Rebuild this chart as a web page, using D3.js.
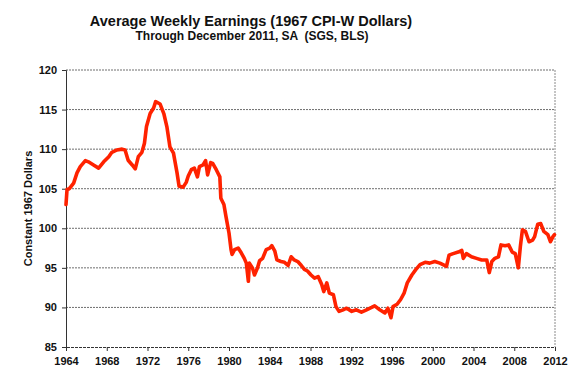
<!DOCTYPE html>
<html lang="en">
<head>
<meta charset="UTF-8">
<title>Average Weekly Earnings</title>
<script src="https://d3js.org/d3.v7.min.js"></script>
<style>
    body { margin: 0; background: #fff; }
    text { font-family: "Liberation Sans", Arial, sans-serif; font-weight: bold; fill: #111; }
</style>
</head>
<body>
<svg id="chart" width="580" height="388"></svg>
<script>
// values
const years = [1964.0, 1964.1, 1964.33, 1964.75, 1965.08, 1965.4, 1965.9, 1966.2, 1966.7, 1967.2, 1967.7,
    1968.2, 1968.5, 1969.0, 1969.5, 1969.8, 1970.1, 1970.5, 1970.8, 1971.1, 1971.45, 1971.7, 1971.9,
    1972.26, 1972.6, 1972.8, 1973.24, 1973.6, 1973.9, 1974.2, 1974.55, 1974.9, 1975.1, 1975.5, 1975.8,
    1976.0, 1976.3, 1976.6, 1976.9, 1977.1, 1977.45, 1977.7, 1977.9, 1978.2, 1978.4, 1978.75, 1979.1,
    1979.2, 1979.5, 1979.7, 1980.0, 1980.2, 1980.3, 1980.55, 1980.9, 1981.2, 1981.5, 1981.7, 1981.9,
    1982.0, 1982.3, 1982.5, 1982.8, 1983.0, 1983.3, 1983.65, 1984.0, 1984.2, 1984.5, 1984.7, 1985.1,
    1985.45, 1985.8, 1986.1, 1986.4, 1986.75, 1987.1, 1987.4, 1987.7, 1988.05, 1988.4, 1988.75, 1989.1,
    1989.3, 1989.6, 1989.85, 1990.25, 1990.5, 1990.8, 1991.2, 1991.55, 1992.05, 1992.5, 1993.0, 1993.5,
    1994.0, 1994.3, 1994.8, 1995.3, 1995.6, 1995.9, 1996.1, 1996.5, 1996.85, 1997.2, 1997.5, 1997.95,
    1998.35, 1998.75, 1999.25, 1999.7, 2000.2, 2000.7, 2001.35, 2001.6, 2002.0, 2002.5, 2002.85, 2003.0,
    2003.3, 2003.8, 2004.3, 2004.8, 2005.3, 2005.55, 2005.8, 2006.1, 2006.45, 2006.7, 2007.1, 2007.45,
    2007.8, 2008.1, 2008.4, 2008.6, 2008.8, 2009.1, 2009.45, 2009.8, 2010.0, 2010.3, 2010.6, 2010.9,
    2011.3, 2011.55, 2011.8, 2011.95];
const earnings = [103.0, 104.9, 105.0, 105.7, 107.0, 107.8, 108.55, 108.4, 108.0, 107.6, 108.4,
    109.05, 109.6, 109.9, 110.0, 109.9, 108.6, 108.0, 107.5, 109.05, 109.6, 110.75, 112.85,
    114.5, 115.2, 116.0, 115.7, 114.5, 112.85, 110.3, 109.5, 107.0, 105.3, 105.2, 105.8,
    106.6, 107.4, 107.6, 106.5, 107.8, 108.0, 108.55, 106.75, 108.3, 108.2, 107.4, 106.5,
    103.8, 103.0, 101.5, 99.4, 97.3, 96.7, 97.3, 97.5, 96.9, 96.2, 95.6, 93.3,
    95.6, 95.0, 94.1, 95.0, 95.9, 96.2, 97.3, 97.5, 97.8, 97.1, 96.0, 95.8,
    95.7, 95.3, 96.4, 96.0, 95.8, 95.3, 94.8, 94.6, 94.1, 93.7, 93.9, 92.9,
    92.0, 93.1, 91.8, 91.6, 90.1, 89.5, 89.7, 89.9, 89.5, 89.7, 89.4, 89.7,
    90.0, 90.2, 89.7, 89.3, 89.9, 88.7, 90.1, 90.4, 91.0, 91.85, 93.1, 94.1,
    94.8, 95.4, 95.7, 95.6, 95.8, 95.6, 95.2, 96.6, 96.8, 97.0, 97.2, 96.2,
    96.8, 96.4, 96.2, 96.0, 96.0, 94.4, 95.8, 96.2, 96.4, 97.9, 97.8, 97.9,
    97.0, 96.8, 95.0, 97.7, 99.8, 99.6, 98.3, 98.5, 98.95, 100.5, 100.6, 99.6,
    99.2, 98.3, 98.95, 99.2];
const yTicks = [85, 90, 95, 100, 105, 110, 115, 120];
const xTicks = d3.range(1964, 2013, 4);

const title = "Average Weekly Earnings (1967 CPI-W Dollars)";
const subtitle = "Through December 2011, SA  (SGS, BLS)";
const yLabel = "Constant 1967 Dollars";

const svg = d3.select("#chart");
const margin = {top: 70, right: 25, bottom: 41, left: 66};
const width = 580 - margin.left - margin.right,
      height = 388 - margin.top - margin.bottom;

const x = d3.scaleLinear().domain([1964, 2012]).range([0, width]);
const y = d3.scaleLinear().domain([85, 120]).range([height, 0]);

const g = svg.append("g").attr("transform", `translate(${margin.left},${margin.top})`);

// gridlines
g.selectAll(".grid").data(yTicks.filter(d => d > 85)).enter().append("line")
    .attr("x1", 0).attr("x2", width)
    .attr("y1", d => y(d)).attr("y2", d => y(d))
    .attr("stroke", "#6e6e6e").attr("stroke-width", 1).attr("stroke-dasharray", "2,1");
// right border
g.append("line").attr("x1", width).attr("x2", width).attr("y1", 0).attr("y2", height)
    .attr("stroke", "#8a8a8a").attr("stroke-dasharray", "2,1");

// axes
const yAxis = g.append("g").call(d3.axisLeft(y).tickValues(yTicks).tickSize(4).tickPadding(5));
const xAxis = g.append("g").attr("transform", `translate(0,${height})`)
    .call(d3.axisBottom(x).tickValues(xTicks).tickFormat(d3.format("d")).tickSize(4).tickPadding(6));
[yAxis, xAxis].forEach(a => {
    a.select(".domain").attr("stroke", "#333");
    a.selectAll(".tick line").attr("stroke", "#333");
    a.selectAll("text").style("font-size", "11px").style("font-weight", "bold")
        .style("font-family", "'Liberation Sans', Arial, sans-serif").attr("fill", "#111");
});
xAxis.select(".domain").attr("stroke-dasharray", "3,1");

// the line
const line = d3.line().x((d, i) => x(years[i])).y(d => y(d));
g.append("path").datum(earnings)
    .attr("fill", "none").attr("stroke", "#ff2200").attr("stroke-width", 3.6)
    .attr("stroke-linejoin", "round").attr("stroke-linecap", "round")
    .attr("d", line);

// titles
svg.append("text").attr("x", 251).attr("y", 26).attr("text-anchor", "middle")
    .style("font-size", "14.5px").text(title);
svg.append("text").attr("x", 252).attr("y", 40).attr("text-anchor", "middle")
    .style("font-size", "12px").style("white-space", "pre").text(subtitle);
svg.append("text").attr("transform", `translate(32,${margin.top + height / 2}) rotate(-90)`)
    .attr("text-anchor", "middle").style("font-size", "11px").text(yLabel);
</script>
</body>
</html>
